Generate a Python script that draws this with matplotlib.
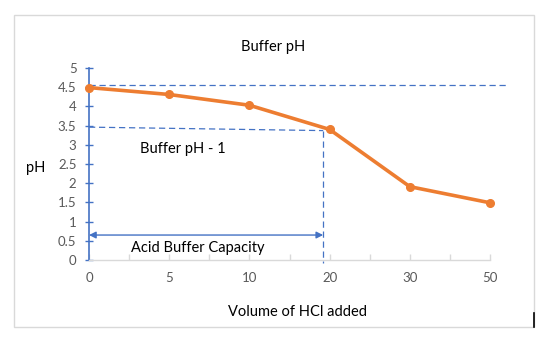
import numpy as np
import matplotlib.pyplot as plt
from matplotlib.patches import Rectangle

plt.rcParams["font.family"] = ["Lato", "DejaVu Sans"]

# data
hcl_labels = ["0", "5", "10", "20", "30", "50"]
ph_values = [4.49, 4.31, 4.03, 3.40, 1.91, 1.49]
buffer_ph = 4.55
buffer_ph_minus_1 = [3.46, 3.37]
capacity_pos = 2.92      # category position where pH drops by 1
arrow_level = 0.65

W, H = 555, 343
fig = plt.figure(figsize=(W / 100, H / 100), dpi=100)

# axes placed in pixel terms: x index 0 -> 89px, step 80px; y 0 -> 260px, 38.4px per unit
left, right, bottom, top = 89, 520, 260, 60
ax = fig.add_axes([left / W, (H - bottom) / H, (right - left) / W, (bottom - top) / H])
ax.set_xlim(0, (right - left) / 80.2)
ax.set_ylim(0, (bottom - top) / 38.4)

x = np.arange(len(hcl_labels))
ax.plot(x, ph_values, color="#ED7D31", linewidth=2.6, marker="o", markersize=5.5,
        clip_on=False, zorder=5)

# reference lines
dash = (0, (5, 3))
ax.plot([0, 5.24], [buffer_ph, buffer_ph], color="#4472C4", linestyle=dash,
        linewidth=0.9, clip_on=False)
ax.plot([0, capacity_pos], buffer_ph_minus_1, color="#4472C4", linestyle=dash,
        linewidth=0.9, clip_on=False)
ax.plot([capacity_pos, capacity_pos], [buffer_ph_minus_1[1], -0.08], color="#4472C4",
        linestyle=dash, linewidth=0.9, clip_on=False)
ax.annotate("", xy=(0, arrow_level), xytext=(capacity_pos, arrow_level),
            arrowprops=dict(arrowstyle="<|-|>", color="#4472C4", lw=1.0,
                            mutation_scale=10, shrinkA=0, shrinkB=0))

# text labels
ax.text(1.17, 2.89, "Buffer pH - 1", fontsize=10.5, ha="center", va="center", color="black")
ax.text(1.36, 0.3, "Acid Buffer Capacity", fontsize=10.5, ha="center", va="center", color="black")
fig.text(273 / W, 1 - 47 / H, "Buffer pH", fontsize=10.5, ha="center", va="center")
fig.text(36 / W, 1 - 168 / H, "pH", fontsize=10.5, ha="center", va="center")
fig.text(297 / W, 1 - 312 / H, "Volume of HCl added", fontsize=10.5, ha="center", va="center")

# spines
for s in ["top", "right"]:
    ax.spines[s].set_visible(False)
ax.spines["left"].set_color("#4472C4")
ax.spines["left"].set_linewidth(1.2)
ax.spines["left"].set_bounds(0, 5)
ax.spines["bottom"].set_color("#D9D9D9")
ax.spines["bottom"].set_linewidth(1.0)
ax.spines["bottom"].set_bounds(0, 5)

# ticks
ax.set_yticks(np.arange(0, 5.01, 0.5))
ax.set_yticklabels(["0", "0.5", "1", "1.5", "2", "2.5", "3", "3.5", "4", "4.5", "5"])
ax.tick_params(axis="y", direction="inout", length=6, width=1.0, color="#4472C4",
               labelcolor="#595959", labelsize=9.5, pad=6)
ax.set_xticks(x)
ax.set_xticklabels(hcl_labels)
ax.set_xticks(np.arange(0.5, 5, 1), minor=True)
ax.tick_params(axis="x", which="both", direction="in", length=4, width=1.0, color="#D9D9D9",
               labelcolor="#595959", labelsize=9.5, pad=9)

# chart border
fig.patches.append(Rectangle((14 / W, 1 - 327 / H), 520 / W, 312 / H, transform=fig.transFigure,
                             fill=False, edgecolor="#D9D9D9", linewidth=1.0))
fig.lines.append(plt.Line2D([534 / W, 534 / W], [1 - 313 / H, 1 - 327 / H],
                            transform=fig.transFigure, color="black", linewidth=1.2))

plt.savefig("out.png", dpi=100)
